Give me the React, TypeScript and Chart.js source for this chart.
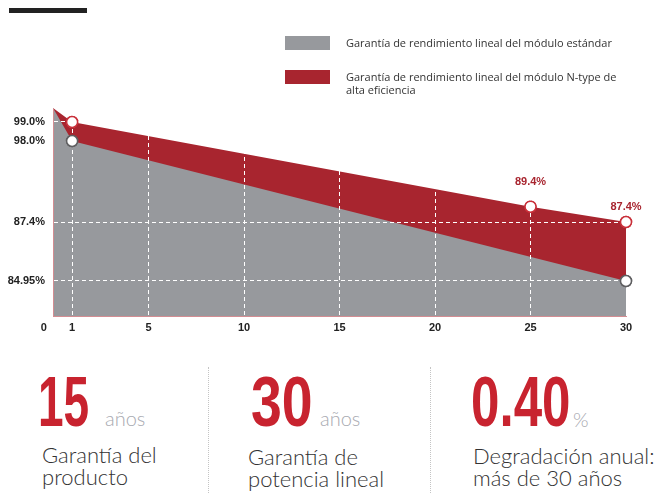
import React, { useEffect, useRef } from 'react';
import { Chart, LinearScale, registerables } from 'chart.js';

// ---------- data ----------
const xTickYears = [0, 1, 5, 10, 15, 20, 25, 30];
const standardYears = [0, 1, 30];
const standardValues = [100, 98.0, 84.95];
const nTypeYears = [0, 1, 25, 30];
const nTypeValues = [100, 99.0, 89.4, 87.4];
const nTypeLabelled = [false, false, true, true];
const yTickValues = [99.0, 98.0, 87.4, 84.95];
const yTickLabels = ['99.0%', '98.0%', '87.4%', '84.95%'];
const yGridShown = [true, false, true, true];
const legendLabels = [
  'Garantía de rendimiento lineal del módulo estándar',
  'Garantía de rendimiento lineal del módulo N-type de alta eficiencia',
];
const statValues = ['15', '30', '0.40'];
const statUnits = ['años', 'años', '%'];
const statCaptions = [
  ['Garantía del', 'producto'],
  ['Garantía de', 'potencia lineal'],
  ['Degradación anual:', 'más de 30 años'],
];

// ---------- styles ----------
const GRAY = '#97999d';
const RED = '#a8252f';
const BIG_RED = '#c8232f';
const AXIS_PINK = '#d38d92';

// piecewise (non-linear) y scale: value -> fraction of the axis height from the bottom
const Y_ANCHORS: [number, number][] = [
  [83.5, 0],
  [84.95, 0.1683],
  [87.4, 0.4519],
  [98.0, 0.8413],
  [99.0, 0.9327],
  [100, 1],
];

function valueToDecimal(v: number) {
  const a = Y_ANCHORS;
  let i = 0;
  if (v <= a[0][0]) i = 0;
  else if (v >= a[a.length - 1][0]) i = a.length - 2;
  else {
    while (i < a.length - 2 && v > a[i + 1][0]) i++;
  }
  const [v0, d0] = a[i];
  const [v1, d1] = a[i + 1];
  return d0 + ((v - v0) / (v1 - v0)) * (d1 - d0);
}
function decimalToValue(d: number) {
  const a = Y_ANCHORS;
  let i = 0;
  if (d <= a[0][1]) i = 0;
  else if (d >= a[a.length - 1][1]) i = a.length - 2;
  else {
    while (i < a.length - 2 && d > a[i + 1][1]) i++;
  }
  const [v0, d0] = a[i];
  const [v1, d1] = a[i + 1];
  return v0 + ((d - d0) / (d1 - d0)) * (v1 - v0);
}

class PiecewiseScale extends (LinearScale as any) {
  static id = 'piecewise';
  getPixelForValue(value: number) {
    return (this as any).getPixelForDecimal(valueToDecimal(value));
  }
  getValueForPixel(pixel: number) {
    return decimalToValue((this as any).getDecimalForPixel(pixel));
  }
}

Chart.register(...registerables, PiecewiseScale as any);

const pointsOnTop = {
  id: 'pointsOnTop',
  afterDraw(chart: any) {
    chart.data.datasets.forEach((_: any, i: number) => {
      const meta = chart.getDatasetMeta(i);
      meta.data.forEach((el: any) => el.draw(chart.ctx, chart.chartArea));
    });
  },
};

const valueLabels = {
  id: 'valueLabels',
  afterDraw(chart: any, _args: any, opts: any) {
    const ctx = chart.ctx;
    const meta = chart.getDatasetMeta(1);
    ctx.save();
    ctx.font = 'bold 11px "Liberation Sans", Arial, sans-serif';
    ctx.fillStyle = RED;
    ctx.textAlign = 'center';
    ctx.textBaseline = 'middle';
    nTypeValues.forEach((v, i) => {
      if (!nTypeLabelled[i]) return;
      const el = meta.data[i];
      ctx.fillText(`${v.toFixed(1)}%`, el.x, el.y - opts.offsets[i]);
    });
    ctx.restore();
  },
};

const tickFont = { family: '"Liberation Sans", Arial, sans-serif', size: 11, weight: 'bold' as const };

export default function App() {
  const canvasRef = useRef<HTMLCanvasElement>(null);

  useEffect(() => {
    const chart = new Chart(canvasRef.current as HTMLCanvasElement, {
      type: 'line',
      data: {
        datasets: [
          {
            label: legendLabels[0],
            data: standardYears.map((x, i) => ({ x, y: standardValues[i] })),
            backgroundColor: GRAY,
            borderColor: GRAY,
            borderWidth: 0,
            fill: 'start',
            tension: 0,
            clip: false,
            pointRadius: (c: any) => (c.raw && c.raw.x === 0 ? 0 : 5.5),
            pointBackgroundColor: '#ffffff',
            pointBorderColor: '#5e5e60',
            pointBorderWidth: 1.5,
          } as any,
          {
            label: legendLabels[1],
            data: nTypeYears.map((x, i) => ({ x, y: nTypeValues[i] })),
            backgroundColor: RED,
            borderColor: RED,
            borderWidth: 0,
            fill: 'start',
            tension: 0,
            clip: false,
            pointRadius: (c: any) => (c.raw && c.raw.x === 0 ? 0 : 5.5),
            pointBackgroundColor: '#ffffff',
            pointBorderColor: '#c9303a',
            pointBorderWidth: 1.5,
          } as any,
        ],
      },
      options: {
        responsive: false,
        animation: false,
        devicePixelRatio: 1,
        events: [],
        layout: { padding: { top: 108, left: 0, right: 39, bottom: 0 } },
        plugins: {
          legend: { display: false },
          tooltip: { enabled: false },
          valueLabels: { offsets: [0, 0, 25, 15] },
        } as any,
        scales: {
          x: {
            type: 'linear',
            min: 0,
            max: 30,
            afterBuildTicks: (s: any) => {
              s.ticks = xTickYears.map((v) => ({ value: v }));
            },
            afterFit: (s: any) => {
              s.height = 29;
            },
            grid: {
              z: 1,
              drawTicks: false,
              lineWidth: 1,
              color: (c: any) =>
                c.tick && c.tick.value > 0 && c.tick.value < 30 ? '#ffffff' : 'rgba(0,0,0,0)',
            },
            border: { z: 1, color: AXIS_PINK, width: 1, dash: [4, 3] },
            ticks: {
              padding: 5,
              autoSkip: false,
              maxRotation: 0,
              color: '#222222',
              font: tickFont,
              callback: (v: any) => (v === 0 ? '0      ' : String(v)),
            },
          },
          y: {
            type: 'piecewise' as any,
            min: 83.5,
            max: 100,
            afterBuildTicks: (s: any) => {
              s.ticks = yTickValues.map((v) => ({ value: v }));
            },
            afterFit: (s: any) => {
              s.width = 53;
            },
            grid: {
              z: 1,
              drawTicks: false,
              lineWidth: 1,
              color: (c: any) => {
                if (!c.tick) return 'rgba(0,0,0,0)';
                const k = yTickValues.indexOf(c.tick.value);
                return k >= 0 && yGridShown[k] ? '#ffffff' : 'rgba(0,0,0,0)';
              },
            },
            border: { z: 1, color: AXIS_PINK, width: 1, dash: [4, 3] },
            ticks: {
              padding: 8,
              autoSkip: false,
              color: '#222222',
              font: tickFont,
              callback: (v: any) => {
                const k = yTickValues.indexOf(Number(v));
                return k >= 0 ? yTickLabels[k] : '';
              },
            },
          } as any,
        },
      },
      plugins: [pointsOnTop, valueLabels],
    } as any);
    return () => chart.destroy();
  }, []);

  const legendText: React.CSSProperties = {
    position: 'absolute',
    left: 346,
    fontFamily: '"Open Sans", "Noto Sans", sans-serif',
    fontSize: 11,
    lineHeight: '13px',
    color: '#333333',
  };

  const colLeft = [38, 251, 471];
  const bigScale = [0.647, 0.78, 0.72];
  const unitLeft = [105, 320, 573];
  const capLeft = [42, 248, 473];
  const capTop = [444, 446, 445];

  return (
    <div
      style={{
        position: 'absolute',
        left: 0,
        top: 0,
        width: 665,
        height: 493,
        overflow: 'hidden',
        background: '#ffffff',
      }}
    >
      <canvas
        ref={canvasRef}
        width={665}
        height={345}
        style={{ position: 'absolute', left: 0, top: 0, width: 665, height: 345 }}
      />
      <div style={{ position: 'absolute', left: 9, top: 8, width: 78, height: 5, background: '#222222' }} />

      <div style={{ position: 'absolute', left: 285, top: 36, width: 45, height: 14, background: GRAY }} />
      <div style={{ ...legendText, top: 36, whiteSpace: 'nowrap' }}>{legendLabels[0]}</div>
      <div style={{ position: 'absolute', left: 285, top: 70, width: 45, height: 14, background: RED }} />
      <div style={{ ...legendText, top: 70, width: 280 }}>{legendLabels[1]}</div>

      {[208, 430].map((x) => (
        <div
          key={x}
          style={{ position: 'absolute', left: x, top: 367, height: 126, borderLeft: '1px dotted #c4c4c4' }}
        />
      ))}

      {statValues.map((v, i) => (
        <React.Fragment key={v}>
          <div
            style={{
              position: 'absolute',
              left: colLeft[i],
              top: 366,
              fontFamily: '"Liberation Sans", Arial, sans-serif',
              fontWeight: 700,
              fontSize: 71,
              lineHeight: '71px',
              color: BIG_RED,
              transform: `scaleX(${bigScale[i]})`,
              transformOrigin: 'left top',
              whiteSpace: 'nowrap',
            }}
          >
            {v}
          </div>
          <div
            style={{
              position: 'absolute',
              left: unitLeft[i],
              top: i === 2 ? 409 : 408,
              fontFamily: 'Lato, "Open Sans", sans-serif',
              fontWeight: 300,
              fontSize: 20,
              lineHeight: '20px',
              color: '#a7a9b0',
              whiteSpace: 'nowrap',
            }}
          >
            {statUnits[i]}
          </div>
          <div
            style={{
              position: 'absolute',
              left: capLeft[i],
              top: capTop[i],
              fontFamily: 'Lato, "Open Sans", sans-serif',
              fontWeight: 300,
              fontSize: 22,
              lineHeight: '22px',
              color: '#333333',
              whiteSpace: 'nowrap',
            }}
          >
            {statCaptions[i][0]}
            <br />
            {statCaptions[i][1]}
          </div>
        </React.Fragment>
      ))}
    </div>
  );
}
